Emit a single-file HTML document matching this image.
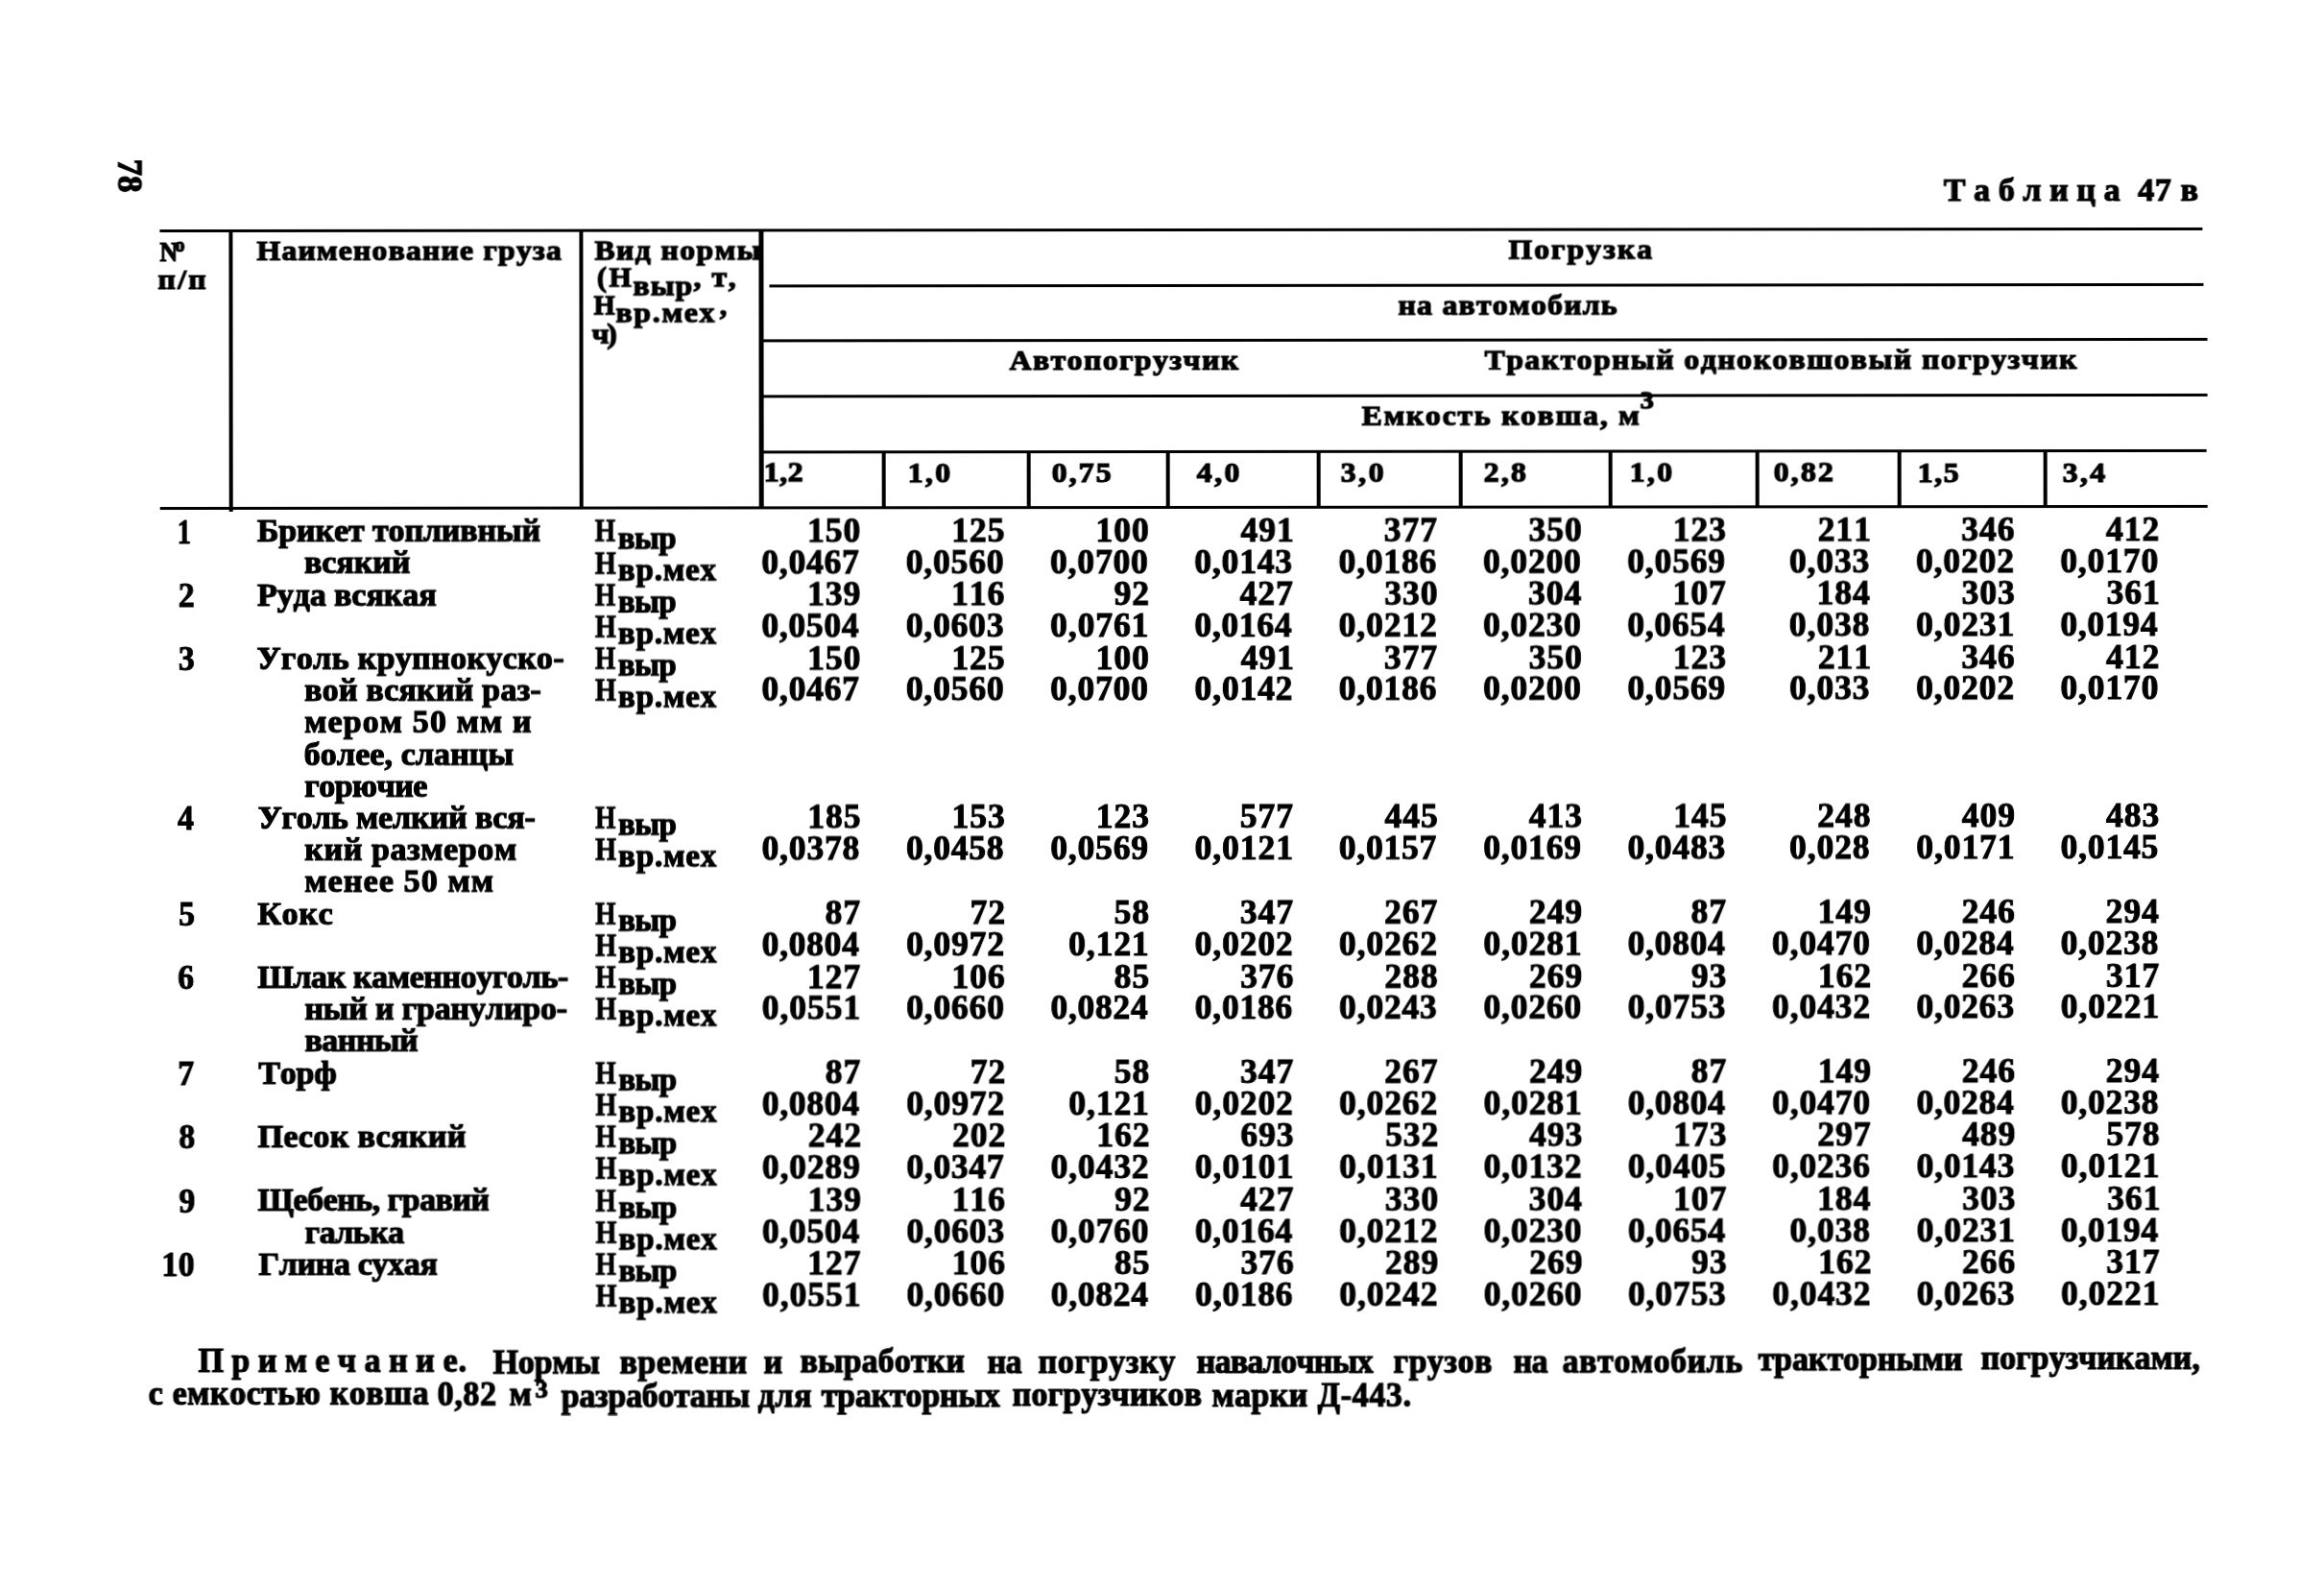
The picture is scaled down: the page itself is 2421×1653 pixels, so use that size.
<!DOCTYPE html>
<html lang="ru"><head><meta charset="utf-8"><title>Таблица 47в</title>
<style>
html,body{margin:0;padding:0;background:#fff;overflow:hidden;}
#clip{position:absolute;left:0;top:0;width:2421px;height:1653px;overflow:hidden;background:#fff;}
body{width:2421px;height:1653px;position:relative;overflow:hidden;font-family:"Liberation Serif",serif;font-weight:bold;color:#000;font-kerning:none;font-variant-ligatures:none;}
.t{position:absolute;white-space:nowrap;display:block;transform-origin:0 50%;-webkit-text-stroke:1.2px #000;}
.l{position:absolute;background:#000;}
#pg{position:absolute;left:0;top:0;width:2421px;height:1653px;transform:rotate(-0.057deg);transform-origin:1210px 826px;will-change:transform;}
</style></head>
<body>
<div id="clip">
<div id="pg">
<div class="l" style="left:166.5px;top:237.7px;width:2128.5px;height:3.4px"></div>
<div class="l" style="left:802.0px;top:295.6px;width:1494.0px;height:3.4px"></div>
<div class="l" style="left:792.0px;top:353.0px;width:1508.0px;height:3.4px"></div>
<div class="l" style="left:792.0px;top:410.7px;width:1508.0px;height:3.4px"></div>
<div class="l" style="left:792.0px;top:468.9px;width:1507.0px;height:3.4px"></div>
<div class="l" style="left:166.5px;top:526.5px;width:2133.5px;height:3.6px"></div>
<div class="l" style="left:238.6px;top:238.0px;width:4.4px;height:294.0px"></div>
<div class="l" style="left:603.6px;top:239.0px;width:4.9px;height:290.0px"></div>
<div class="l" style="left:791.2px;top:239.0px;width:4.8px;height:290.0px"></div>
<div class="l" style="left:918.7px;top:469.0px;width:4.0px;height:60.0px"></div>
<div class="l" style="left:1069.7px;top:469.0px;width:4.0px;height:60.0px"></div>
<div class="l" style="left:1215.3px;top:469.0px;width:4.0px;height:60.0px"></div>
<div class="l" style="left:1371.9px;top:469.0px;width:4.0px;height:60.0px"></div>
<div class="l" style="left:1519.6px;top:469.0px;width:4.0px;height:60.0px"></div>
<div class="l" style="left:1675.9px;top:469.0px;width:4.0px;height:60.0px"></div>
<div class="l" style="left:1828.8px;top:469.0px;width:4.0px;height:60.0px"></div>
<div class="l" style="left:1977.3px;top:469.0px;width:4.0px;height:60.0px"></div>
<div class="l" style="left:2129.0px;top:469.0px;width:4.0px;height:60.0px"></div>
<span class="t" style="left:135.2px;top:182.0px;font-size:35px;line-height:35px;transform:translate(-50%,-50%) rotate(90deg);transform-origin:50% 50%;">78</span>
<span class="t" style="left:2025.48px;top:182.00px;font-size:34px;line-height:34px;letter-spacing:8.652px;">Таблица</span>
<span class="t" style="left:2227.65px;top:182.00px;font-size:34px;line-height:34px;letter-spacing:0.895px;">47</span>
<span class="t" style="left:2272.33px;top:182.00px;font-size:34px;line-height:34px;">в</span>
<span class="t" style="left:166.78px;top:246.00px;font-size:30px;line-height:30px;transform:scaleX(0.8600);">N</span>
<span class="t" style="left:183.00px;top:244.00px;font-size:20px;line-height:20px;">о</span>
<span class="t" style="left:164.52px;top:275.00px;font-size:30px;line-height:30px;letter-spacing:2.182px;transform:scaleX(1.0600);">п/п</span>
<span class="t" style="left:267.84px;top:245.00px;font-size:30px;line-height:30px;letter-spacing:1.105px;transform:scaleX(1.0600);">Наименование груза</span>
<span class="t" style="left:620.06px;top:245.00px;font-size:30px;line-height:30px;letter-spacing:1.301px;transform:scaleX(1.0600);">Вид нормы</span>
<span class="t" style="left:622.41px;top:273.00px;font-size:30px;line-height:30px;letter-spacing:2.500px;">(Н</span>
<span class="t" style="left:659.66px;top:282.00px;font-size:30px;line-height:30px;letter-spacing:1.000px;transform:scaleX(1.0600);">выр</span>
<span class="t" style="left:722.76px;top:273.00px;font-size:30px;line-height:30px;letter-spacing:1.500px;transform:scaleX(1.0600);">, т,</span>
<span class="t" style="left:618.58px;top:302.00px;font-size:30px;line-height:30px;transform:scaleX(0.9500);">Н</span>
<span class="t" style="left:642.34px;top:310.00px;font-size:30px;line-height:30px;letter-spacing:1.600px;transform:scaleX(1.0600);">вр.мех</span>
<span class="t" style="left:750.34px;top:302.00px;font-size:30px;line-height:30px;">,</span>
<span class="t" style="left:617.44px;top:332.00px;font-size:30px;line-height:30px;letter-spacing:-2.012px;transform:scaleX(1.0600);">ч)</span>
<span class="t" style="left:1571.57px;top:245.00px;font-size:30px;line-height:30px;letter-spacing:1.882px;transform:scaleX(1.0600);">Погрузка</span>
<span class="t" style="left:1457.09px;top:303.00px;font-size:30px;line-height:30px;letter-spacing:1.174px;transform:scaleX(1.0600);">на автомобиль</span>
<span class="t" style="left:1051.76px;top:360.00px;font-size:30px;line-height:30px;letter-spacing:1.354px;transform:scaleX(1.0600);">Автопогрузчик</span>
<span class="t" style="left:1546.58px;top:360.00px;font-size:30px;line-height:30px;letter-spacing:1.380px;transform:scaleX(1.0600);">Тракторный одноковшовый погрузчик</span>
<span class="t" style="left:1418.77px;top:418.00px;font-size:30px;line-height:30px;letter-spacing:1.627px;transform:scaleX(1.0600);">Емкость ковша, м</span>
<span class="t" style="left:1709.10px;top:405.00px;font-size:25.5px;line-height:25.5px;transform:scaleX(1.1200);">3</span>
<span class="t" style="left:796.23px;top:477.00px;font-size:29px;line-height:29px;letter-spacing:0.468px;transform:scaleX(1.1000);">1,2</span>
<span class="t" style="left:946.23px;top:478.00px;font-size:29px;line-height:29px;letter-spacing:2.125px;transform:scaleX(1.1000);">1,0</span>
<span class="t" style="left:1095.77px;top:478.00px;font-size:29px;line-height:29px;letter-spacing:1.890px;transform:scaleX(1.1000);">0,75</span>
<span class="t" style="left:1247.15px;top:478.00px;font-size:29px;line-height:29px;letter-spacing:2.207px;transform:scaleX(1.1000);">4,0</span>
<span class="t" style="left:1397.38px;top:478.00px;font-size:29px;line-height:29px;letter-spacing:2.327px;transform:scaleX(1.1000);">3,0</span>
<span class="t" style="left:1546.14px;top:478.00px;font-size:29px;line-height:29px;letter-spacing:2.002px;transform:scaleX(1.1000);">2,8</span>
<span class="t" style="left:1698.43px;top:478.00px;font-size:29px;line-height:29px;letter-spacing:2.079px;transform:scaleX(1.1000);">1,0</span>
<span class="t" style="left:1847.77px;top:478.00px;font-size:29px;line-height:29px;letter-spacing:1.952px;transform:scaleX(1.1000);">0,82</span>
<span class="t" style="left:1998.43px;top:479.00px;font-size:29px;line-height:29px;letter-spacing:1.376px;transform:scaleX(1.1000);">1,5</span>
<span class="t" style="left:2149.08px;top:479.00px;font-size:29px;line-height:29px;letter-spacing:2.044px;transform:scaleX(1.1000);">3,4</span>
<span class="t" style="left:185.47px;top:536.00px;font-size:35.5px;line-height:35.5px;letter-spacing:0.500px;transform:scaleX(0.8000);-webkit-text-stroke-width:1px;">1</span>
<span class="t" style="left:185.91px;top:602.00px;font-size:35.5px;line-height:35.5px;letter-spacing:0.500px;transform:scaleX(0.9500);-webkit-text-stroke-width:1px;">2</span>
<span class="t" style="left:185.62px;top:668.00px;font-size:35.5px;line-height:35.5px;letter-spacing:0.500px;transform:scaleX(0.9500);-webkit-text-stroke-width:1px;">3</span>
<span class="t" style="left:185.09px;top:834.00px;font-size:35.5px;line-height:35.5px;letter-spacing:0.500px;transform:scaleX(0.9500);-webkit-text-stroke-width:1px;">4</span>
<span class="t" style="left:185.70px;top:934.00px;font-size:35.5px;line-height:35.5px;letter-spacing:0.500px;transform:scaleX(0.9500);-webkit-text-stroke-width:1px;">5</span>
<span class="t" style="left:185.45px;top:1000.00px;font-size:35.5px;line-height:35.5px;letter-spacing:0.500px;transform:scaleX(0.9500);-webkit-text-stroke-width:1px;">6</span>
<span class="t" style="left:185.29px;top:1100.00px;font-size:35.5px;line-height:35.5px;letter-spacing:0.500px;transform:scaleX(0.9500);-webkit-text-stroke-width:1px;">7</span>
<span class="t" style="left:185.58px;top:1166.00px;font-size:35.5px;line-height:35.5px;letter-spacing:0.500px;transform:scaleX(0.9500);-webkit-text-stroke-width:1px;">8</span>
<span class="t" style="left:185.68px;top:1233.00px;font-size:35.5px;line-height:35.5px;letter-spacing:0.500px;transform:scaleX(0.9500);-webkit-text-stroke-width:1px;">9</span>
<span class="t" style="left:168.41px;top:1299.00px;font-size:35.5px;line-height:35.5px;letter-spacing:0.500px;transform:scaleX(0.9500);-webkit-text-stroke-width:1px;">10</span>
<span class="t" style="left:268.22px;top:535.00px;font-size:34px;line-height:34px;letter-spacing:-0.122px;">Брикет топливный</span>
<span class="t" style="left:317.22px;top:568.00px;font-size:34px;line-height:34px;letter-spacing:-0.028px;">всякий</span>
<span class="t" style="left:268.22px;top:602.00px;font-size:34px;line-height:34px;letter-spacing:-0.072px;">Руда всякая</span>
<span class="t" style="left:267.84px;top:668.00px;font-size:34px;line-height:34px;letter-spacing:0.335px;">Уголь крупнокуско-</span>
<span class="t" style="left:317.22px;top:701.00px;font-size:34px;line-height:34px;letter-spacing:0.226px;">вой всякий раз-</span>
<span class="t" style="left:317.20px;top:734.00px;font-size:34px;line-height:34px;letter-spacing:1.131px;">мером 50 мм и</span>
<span class="t" style="left:316.77px;top:768.00px;font-size:34px;line-height:34px;letter-spacing:0.098px;">более, сланцы</span>
<span class="t" style="left:317.20px;top:801.00px;font-size:34px;line-height:34px;letter-spacing:-0.500px;">горючие</span>
<span class="t" style="left:268.64px;top:834.00px;font-size:34px;line-height:34px;letter-spacing:-0.088px;">Уголь мелкий вся-</span>
<span class="t" style="left:317.37px;top:867.00px;font-size:34px;line-height:34px;letter-spacing:0.594px;">кий размером</span>
<span class="t" style="left:317.20px;top:900.00px;font-size:34px;line-height:34px;letter-spacing:1.142px;">менее 50 мм</span>
<span class="t" style="left:268.22px;top:934.00px;font-size:34px;line-height:34px;letter-spacing:0.700px;">Кокс</span>
<span class="t" style="left:268.22px;top:1000.00px;font-size:34px;line-height:34px;letter-spacing:-0.383px;">Шлак каменноуголь-</span>
<span class="t" style="left:317.20px;top:1033.00px;font-size:34px;line-height:34px;letter-spacing:-0.167px;">ный и гранулиро-</span>
<span class="t" style="left:317.22px;top:1066.00px;font-size:34px;line-height:34px;letter-spacing:-0.500px;">ванный</span>
<span class="t" style="left:269.07px;top:1100.00px;font-size:34px;line-height:34px;letter-spacing:-0.200px;">Торф</span>
<span class="t" style="left:268.14px;top:1166.00px;font-size:34px;line-height:34px;letter-spacing:0.421px;">Песок всякий</span>
<span class="t" style="left:268.22px;top:1232.00px;font-size:34px;line-height:34px;letter-spacing:-0.500px;">Щебень, гравий</span>
<span class="t" style="left:317.20px;top:1266.00px;font-size:34px;line-height:34px;letter-spacing:-0.500px;">галька</span>
<span class="t" style="left:268.99px;top:1299.00px;font-size:34px;line-height:34px;letter-spacing:-0.356px;">Глина сухая</span>
<span class="t" style="left:841.20px;top:535.00px;font-size:35.5px;line-height:35.5px;letter-spacing:1.000px;-webkit-text-stroke-width:1px;">150</span>
<span class="t" style="left:991.48px;top:535.00px;font-size:35.5px;line-height:35.5px;letter-spacing:1.000px;-webkit-text-stroke-width:1px;">125</span>
<span class="t" style="left:1141.86px;top:535.00px;font-size:35.5px;line-height:35.5px;letter-spacing:1.000px;-webkit-text-stroke-width:1px;">100</span>
<span class="t" style="left:1292.68px;top:535.00px;font-size:35.5px;line-height:35.5px;letter-spacing:1.000px;-webkit-text-stroke-width:1px;">491</span>
<span class="t" style="left:1442.04px;top:535.00px;font-size:35.5px;line-height:35.5px;letter-spacing:1.000px;-webkit-text-stroke-width:1px;">377</span>
<span class="t" style="left:1592.85px;top:535.00px;font-size:35.5px;line-height:35.5px;letter-spacing:1.000px;-webkit-text-stroke-width:1px;">350</span>
<span class="t" style="left:1743.04px;top:535.00px;font-size:35.5px;line-height:35.5px;letter-spacing:1.000px;-webkit-text-stroke-width:1px;">123</span>
<span class="t" style="left:1894.00px;top:535.00px;font-size:35.5px;line-height:35.5px;letter-spacing:1.000px;-webkit-text-stroke-width:1px;">211</span>
<span class="t" style="left:2043.53px;top:535.00px;font-size:35.5px;line-height:35.5px;letter-spacing:1.000px;-webkit-text-stroke-width:1px;">346</span>
<span class="t" style="left:2194.35px;top:535.00px;font-size:35.5px;line-height:35.5px;letter-spacing:1.000px;-webkit-text-stroke-width:1px;">412</span>
<span class="t" style="left:793.55px;top:568.00px;font-size:35.5px;line-height:35.5px;letter-spacing:0.759px;-webkit-text-stroke-width:1px;">0,0467</span>
<span class="t" style="left:943.88px;top:568.00px;font-size:35.5px;line-height:35.5px;letter-spacing:0.856px;-webkit-text-stroke-width:1px;">0,0560</span>
<span class="t" style="left:1094.21px;top:568.00px;font-size:35.5px;line-height:35.5px;letter-spacing:0.856px;-webkit-text-stroke-width:1px;">0,0700</span>
<span class="t" style="left:1244.54px;top:568.00px;font-size:35.5px;line-height:35.5px;letter-spacing:0.828px;-webkit-text-stroke-width:1px;">0,0143</span>
<span class="t" style="left:1394.87px;top:568.00px;font-size:35.5px;line-height:35.5px;letter-spacing:0.793px;-webkit-text-stroke-width:1px;">0,0186</span>
<span class="t" style="left:1545.20px;top:568.00px;font-size:35.5px;line-height:35.5px;letter-spacing:0.856px;-webkit-text-stroke-width:1px;">0,0200</span>
<span class="t" style="left:1695.53px;top:568.00px;font-size:35.5px;line-height:35.5px;letter-spacing:0.842px;-webkit-text-stroke-width:1px;">0,0569</span>
<span class="t" style="left:1864.15px;top:568.00px;font-size:35.5px;line-height:35.5px;letter-spacing:0.900px;-webkit-text-stroke-width:1px;">0,033</span>
<span class="t" style="left:1996.19px;top:568.00px;font-size:35.5px;line-height:35.5px;letter-spacing:0.890px;-webkit-text-stroke-width:1px;">0,0202</span>
<span class="t" style="left:2146.52px;top:568.00px;font-size:35.5px;line-height:35.5px;letter-spacing:0.856px;-webkit-text-stroke-width:1px;">0,0170</span>
<span class="t" style="left:841.13px;top:601.00px;font-size:35.5px;line-height:35.5px;letter-spacing:1.000px;-webkit-text-stroke-width:1px;">139</span>
<span class="t" style="left:991.22px;top:601.00px;font-size:35.5px;line-height:35.5px;letter-spacing:1.000px;-webkit-text-stroke-width:1px;">116</span>
<span class="t" style="left:1160.79px;top:601.00px;font-size:35.5px;line-height:35.5px;letter-spacing:1.000px;-webkit-text-stroke-width:1px;">92</span>
<span class="t" style="left:1291.71px;top:601.00px;font-size:35.5px;line-height:35.5px;letter-spacing:1.000px;-webkit-text-stroke-width:1px;">427</span>
<span class="t" style="left:1442.52px;top:601.00px;font-size:35.5px;line-height:35.5px;letter-spacing:1.000px;-webkit-text-stroke-width:1px;">330</span>
<span class="t" style="left:1592.16px;top:601.00px;font-size:35.5px;line-height:35.5px;letter-spacing:1.000px;-webkit-text-stroke-width:1px;">304</span>
<span class="t" style="left:1742.70px;top:601.00px;font-size:35.5px;line-height:35.5px;letter-spacing:1.000px;-webkit-text-stroke-width:1px;">107</span>
<span class="t" style="left:1892.82px;top:601.00px;font-size:35.5px;line-height:35.5px;letter-spacing:1.000px;-webkit-text-stroke-width:1px;">184</span>
<span class="t" style="left:2043.70px;top:601.00px;font-size:35.5px;line-height:35.5px;letter-spacing:1.000px;-webkit-text-stroke-width:1px;">303</span>
<span class="t" style="left:2194.66px;top:601.00px;font-size:35.5px;line-height:35.5px;letter-spacing:1.000px;-webkit-text-stroke-width:1px;">361</span>
<span class="t" style="left:793.55px;top:634.00px;font-size:35.5px;line-height:35.5px;letter-spacing:0.717px;-webkit-text-stroke-width:1px;">0,0504</span>
<span class="t" style="left:943.88px;top:634.00px;font-size:35.5px;line-height:35.5px;letter-spacing:0.828px;-webkit-text-stroke-width:1px;">0,0603</span>
<span class="t" style="left:1094.21px;top:634.00px;font-size:35.5px;line-height:35.5px;letter-spacing:0.953px;-webkit-text-stroke-width:1px;">0,0761</span>
<span class="t" style="left:1244.54px;top:634.00px;font-size:35.5px;line-height:35.5px;letter-spacing:0.717px;-webkit-text-stroke-width:1px;">0,0164</span>
<span class="t" style="left:1394.87px;top:634.00px;font-size:35.5px;line-height:35.5px;letter-spacing:0.890px;-webkit-text-stroke-width:1px;">0,0212</span>
<span class="t" style="left:1545.20px;top:634.00px;font-size:35.5px;line-height:35.5px;letter-spacing:0.856px;-webkit-text-stroke-width:1px;">0,0230</span>
<span class="t" style="left:1695.53px;top:634.00px;font-size:35.5px;line-height:35.5px;letter-spacing:0.717px;-webkit-text-stroke-width:1px;">0,0654</span>
<span class="t" style="left:1864.11px;top:634.00px;font-size:35.5px;line-height:35.5px;letter-spacing:0.900px;-webkit-text-stroke-width:1px;">0,038</span>
<span class="t" style="left:1996.19px;top:634.00px;font-size:35.5px;line-height:35.5px;letter-spacing:0.953px;-webkit-text-stroke-width:1px;">0,0231</span>
<span class="t" style="left:2146.52px;top:634.00px;font-size:35.5px;line-height:35.5px;letter-spacing:0.717px;-webkit-text-stroke-width:1px;">0,0194</span>
<span class="t" style="left:841.20px;top:668.00px;font-size:35.5px;line-height:35.5px;letter-spacing:1.000px;-webkit-text-stroke-width:1px;">150</span>
<span class="t" style="left:991.48px;top:668.00px;font-size:35.5px;line-height:35.5px;letter-spacing:1.000px;-webkit-text-stroke-width:1px;">125</span>
<span class="t" style="left:1141.86px;top:668.00px;font-size:35.5px;line-height:35.5px;letter-spacing:1.000px;-webkit-text-stroke-width:1px;">100</span>
<span class="t" style="left:1292.68px;top:668.00px;font-size:35.5px;line-height:35.5px;letter-spacing:1.000px;-webkit-text-stroke-width:1px;">491</span>
<span class="t" style="left:1442.04px;top:668.00px;font-size:35.5px;line-height:35.5px;letter-spacing:1.000px;-webkit-text-stroke-width:1px;">377</span>
<span class="t" style="left:1592.85px;top:668.00px;font-size:35.5px;line-height:35.5px;letter-spacing:1.000px;-webkit-text-stroke-width:1px;">350</span>
<span class="t" style="left:1743.04px;top:668.00px;font-size:35.5px;line-height:35.5px;letter-spacing:1.000px;-webkit-text-stroke-width:1px;">123</span>
<span class="t" style="left:1894.00px;top:668.00px;font-size:35.5px;line-height:35.5px;letter-spacing:1.000px;-webkit-text-stroke-width:1px;">211</span>
<span class="t" style="left:2043.53px;top:668.00px;font-size:35.5px;line-height:35.5px;letter-spacing:1.000px;-webkit-text-stroke-width:1px;">346</span>
<span class="t" style="left:2194.35px;top:668.00px;font-size:35.5px;line-height:35.5px;letter-spacing:1.000px;-webkit-text-stroke-width:1px;">412</span>
<span class="t" style="left:793.55px;top:700.00px;font-size:35.5px;line-height:35.5px;letter-spacing:0.759px;-webkit-text-stroke-width:1px;">0,0467</span>
<span class="t" style="left:943.88px;top:700.00px;font-size:35.5px;line-height:35.5px;letter-spacing:0.856px;-webkit-text-stroke-width:1px;">0,0560</span>
<span class="t" style="left:1094.21px;top:700.00px;font-size:35.5px;line-height:35.5px;letter-spacing:0.856px;-webkit-text-stroke-width:1px;">0,0700</span>
<span class="t" style="left:1244.54px;top:700.00px;font-size:35.5px;line-height:35.5px;letter-spacing:0.890px;-webkit-text-stroke-width:1px;">0,0142</span>
<span class="t" style="left:1394.87px;top:700.00px;font-size:35.5px;line-height:35.5px;letter-spacing:0.793px;-webkit-text-stroke-width:1px;">0,0186</span>
<span class="t" style="left:1545.20px;top:700.00px;font-size:35.5px;line-height:35.5px;letter-spacing:0.856px;-webkit-text-stroke-width:1px;">0,0200</span>
<span class="t" style="left:1695.53px;top:700.00px;font-size:35.5px;line-height:35.5px;letter-spacing:0.842px;-webkit-text-stroke-width:1px;">0,0569</span>
<span class="t" style="left:1864.15px;top:700.00px;font-size:35.5px;line-height:35.5px;letter-spacing:0.900px;-webkit-text-stroke-width:1px;">0,033</span>
<span class="t" style="left:1996.19px;top:700.00px;font-size:35.5px;line-height:35.5px;letter-spacing:0.890px;-webkit-text-stroke-width:1px;">0,0202</span>
<span class="t" style="left:2146.52px;top:700.00px;font-size:35.5px;line-height:35.5px;letter-spacing:0.856px;-webkit-text-stroke-width:1px;">0,0170</span>
<span class="t" style="left:841.15px;top:833.00px;font-size:35.5px;line-height:35.5px;letter-spacing:1.000px;-webkit-text-stroke-width:1px;">185</span>
<span class="t" style="left:991.39px;top:833.00px;font-size:35.5px;line-height:35.5px;letter-spacing:1.000px;-webkit-text-stroke-width:1px;">153</span>
<span class="t" style="left:1141.72px;top:833.00px;font-size:35.5px;line-height:35.5px;letter-spacing:1.000px;-webkit-text-stroke-width:1px;">123</span>
<span class="t" style="left:1291.71px;top:833.00px;font-size:35.5px;line-height:35.5px;letter-spacing:1.000px;-webkit-text-stroke-width:1px;">577</span>
<span class="t" style="left:1442.47px;top:833.00px;font-size:35.5px;line-height:35.5px;letter-spacing:1.000px;-webkit-text-stroke-width:1px;">445</span>
<span class="t" style="left:1592.71px;top:833.00px;font-size:35.5px;line-height:35.5px;letter-spacing:1.000px;-webkit-text-stroke-width:1px;">413</span>
<span class="t" style="left:1743.13px;top:833.00px;font-size:35.5px;line-height:35.5px;letter-spacing:1.000px;-webkit-text-stroke-width:1px;">145</span>
<span class="t" style="left:1893.34px;top:833.00px;font-size:35.5px;line-height:35.5px;letter-spacing:1.000px;-webkit-text-stroke-width:1px;">248</span>
<span class="t" style="left:2043.77px;top:833.00px;font-size:35.5px;line-height:35.5px;letter-spacing:1.000px;-webkit-text-stroke-width:1px;">409</span>
<span class="t" style="left:2194.03px;top:833.00px;font-size:35.5px;line-height:35.5px;letter-spacing:1.000px;-webkit-text-stroke-width:1px;">483</span>
<span class="t" style="left:793.55px;top:866.00px;font-size:35.5px;line-height:35.5px;letter-spacing:0.821px;-webkit-text-stroke-width:1px;">0,0378</span>
<span class="t" style="left:943.88px;top:866.00px;font-size:35.5px;line-height:35.5px;letter-spacing:0.821px;-webkit-text-stroke-width:1px;">0,0458</span>
<span class="t" style="left:1094.21px;top:866.00px;font-size:35.5px;line-height:35.5px;letter-spacing:0.842px;-webkit-text-stroke-width:1px;">0,0569</span>
<span class="t" style="left:1244.54px;top:866.00px;font-size:35.5px;line-height:35.5px;letter-spacing:0.953px;-webkit-text-stroke-width:1px;">0,0121</span>
<span class="t" style="left:1394.87px;top:866.00px;font-size:35.5px;line-height:35.5px;letter-spacing:0.759px;-webkit-text-stroke-width:1px;">0,0157</span>
<span class="t" style="left:1545.20px;top:866.00px;font-size:35.5px;line-height:35.5px;letter-spacing:0.842px;-webkit-text-stroke-width:1px;">0,0169</span>
<span class="t" style="left:1695.53px;top:866.00px;font-size:35.5px;line-height:35.5px;letter-spacing:0.828px;-webkit-text-stroke-width:1px;">0,0483</span>
<span class="t" style="left:1864.11px;top:866.00px;font-size:35.5px;line-height:35.5px;letter-spacing:0.900px;-webkit-text-stroke-width:1px;">0,028</span>
<span class="t" style="left:1996.19px;top:866.00px;font-size:35.5px;line-height:35.5px;letter-spacing:0.953px;-webkit-text-stroke-width:1px;">0,0171</span>
<span class="t" style="left:2146.52px;top:866.00px;font-size:35.5px;line-height:35.5px;letter-spacing:0.845px;-webkit-text-stroke-width:1px;">0,0145</span>
<span class="t" style="left:859.47px;top:933.00px;font-size:35.5px;line-height:35.5px;letter-spacing:1.000px;-webkit-text-stroke-width:1px;">87</span>
<span class="t" style="left:1010.46px;top:933.00px;font-size:35.5px;line-height:35.5px;letter-spacing:1.000px;-webkit-text-stroke-width:1px;">72</span>
<span class="t" style="left:1160.44px;top:933.00px;font-size:35.5px;line-height:35.5px;letter-spacing:1.000px;-webkit-text-stroke-width:1px;">58</span>
<span class="t" style="left:1291.71px;top:933.00px;font-size:35.5px;line-height:35.5px;letter-spacing:1.000px;-webkit-text-stroke-width:1px;">347</span>
<span class="t" style="left:1442.04px;top:933.00px;font-size:35.5px;line-height:35.5px;letter-spacing:1.000px;-webkit-text-stroke-width:1px;">267</span>
<span class="t" style="left:1592.78px;top:933.00px;font-size:35.5px;line-height:35.5px;letter-spacing:1.000px;-webkit-text-stroke-width:1px;">249</span>
<span class="t" style="left:1761.45px;top:933.00px;font-size:35.5px;line-height:35.5px;letter-spacing:1.000px;-webkit-text-stroke-width:1px;">87</span>
<span class="t" style="left:1893.44px;top:933.00px;font-size:35.5px;line-height:35.5px;letter-spacing:1.000px;-webkit-text-stroke-width:1px;">149</span>
<span class="t" style="left:2043.53px;top:933.00px;font-size:35.5px;line-height:35.5px;letter-spacing:1.000px;-webkit-text-stroke-width:1px;">246</span>
<span class="t" style="left:2193.48px;top:933.00px;font-size:35.5px;line-height:35.5px;letter-spacing:1.000px;-webkit-text-stroke-width:1px;">294</span>
<span class="t" style="left:793.55px;top:966.00px;font-size:35.5px;line-height:35.5px;letter-spacing:0.717px;-webkit-text-stroke-width:1px;">0,0804</span>
<span class="t" style="left:943.88px;top:966.00px;font-size:35.5px;line-height:35.5px;letter-spacing:0.890px;-webkit-text-stroke-width:1px;">0,0972</span>
<span class="t" style="left:1113.12px;top:966.00px;font-size:35.5px;line-height:35.5px;letter-spacing:0.900px;-webkit-text-stroke-width:1px;">0,121</span>
<span class="t" style="left:1244.54px;top:966.00px;font-size:35.5px;line-height:35.5px;letter-spacing:0.890px;-webkit-text-stroke-width:1px;">0,0202</span>
<span class="t" style="left:1394.87px;top:966.00px;font-size:35.5px;line-height:35.5px;letter-spacing:0.890px;-webkit-text-stroke-width:1px;">0,0262</span>
<span class="t" style="left:1545.20px;top:966.00px;font-size:35.5px;line-height:35.5px;letter-spacing:0.953px;-webkit-text-stroke-width:1px;">0,0281</span>
<span class="t" style="left:1695.53px;top:966.00px;font-size:35.5px;line-height:35.5px;letter-spacing:0.717px;-webkit-text-stroke-width:1px;">0,0804</span>
<span class="t" style="left:1845.86px;top:966.00px;font-size:35.5px;line-height:35.5px;letter-spacing:0.856px;-webkit-text-stroke-width:1px;">0,0470</span>
<span class="t" style="left:1996.19px;top:966.00px;font-size:35.5px;line-height:35.5px;letter-spacing:0.717px;-webkit-text-stroke-width:1px;">0,0284</span>
<span class="t" style="left:2146.52px;top:966.00px;font-size:35.5px;line-height:35.5px;letter-spacing:0.821px;-webkit-text-stroke-width:1px;">0,0238</span>
<span class="t" style="left:840.72px;top:1000.00px;font-size:35.5px;line-height:35.5px;letter-spacing:1.000px;-webkit-text-stroke-width:1px;">127</span>
<span class="t" style="left:991.22px;top:1000.00px;font-size:35.5px;line-height:35.5px;letter-spacing:1.000px;-webkit-text-stroke-width:1px;">106</span>
<span class="t" style="left:1160.56px;top:1000.00px;font-size:35.5px;line-height:35.5px;letter-spacing:1.000px;-webkit-text-stroke-width:1px;">85</span>
<span class="t" style="left:1291.88px;top:1000.00px;font-size:35.5px;line-height:35.5px;letter-spacing:1.000px;-webkit-text-stroke-width:1px;">376</span>
<span class="t" style="left:1442.35px;top:1000.00px;font-size:35.5px;line-height:35.5px;letter-spacing:1.000px;-webkit-text-stroke-width:1px;">288</span>
<span class="t" style="left:1592.78px;top:1000.00px;font-size:35.5px;line-height:35.5px;letter-spacing:1.000px;-webkit-text-stroke-width:1px;">269</span>
<span class="t" style="left:1761.79px;top:1000.00px;font-size:35.5px;line-height:35.5px;letter-spacing:1.000px;-webkit-text-stroke-width:1px;">93</span>
<span class="t" style="left:1893.69px;top:1000.00px;font-size:35.5px;line-height:35.5px;letter-spacing:1.000px;-webkit-text-stroke-width:1px;">162</span>
<span class="t" style="left:2043.53px;top:1000.00px;font-size:35.5px;line-height:35.5px;letter-spacing:1.000px;-webkit-text-stroke-width:1px;">266</span>
<span class="t" style="left:2193.69px;top:1000.00px;font-size:35.5px;line-height:35.5px;letter-spacing:1.000px;-webkit-text-stroke-width:1px;">317</span>
<span class="t" style="left:793.55px;top:1032.00px;font-size:35.5px;line-height:35.5px;letter-spacing:0.953px;-webkit-text-stroke-width:1px;">0,0551</span>
<span class="t" style="left:943.88px;top:1032.00px;font-size:35.5px;line-height:35.5px;letter-spacing:0.856px;-webkit-text-stroke-width:1px;">0,0660</span>
<span class="t" style="left:1094.21px;top:1032.00px;font-size:35.5px;line-height:35.5px;letter-spacing:0.717px;-webkit-text-stroke-width:1px;">0,0824</span>
<span class="t" style="left:1244.54px;top:1032.00px;font-size:35.5px;line-height:35.5px;letter-spacing:0.793px;-webkit-text-stroke-width:1px;">0,0186</span>
<span class="t" style="left:1394.87px;top:1032.00px;font-size:35.5px;line-height:35.5px;letter-spacing:0.828px;-webkit-text-stroke-width:1px;">0,0243</span>
<span class="t" style="left:1545.20px;top:1032.00px;font-size:35.5px;line-height:35.5px;letter-spacing:0.856px;-webkit-text-stroke-width:1px;">0,0260</span>
<span class="t" style="left:1695.53px;top:1032.00px;font-size:35.5px;line-height:35.5px;letter-spacing:0.828px;-webkit-text-stroke-width:1px;">0,0753</span>
<span class="t" style="left:1845.86px;top:1032.00px;font-size:35.5px;line-height:35.5px;letter-spacing:0.890px;-webkit-text-stroke-width:1px;">0,0432</span>
<span class="t" style="left:1996.19px;top:1032.00px;font-size:35.5px;line-height:35.5px;letter-spacing:0.828px;-webkit-text-stroke-width:1px;">0,0263</span>
<span class="t" style="left:2146.52px;top:1032.00px;font-size:35.5px;line-height:35.5px;letter-spacing:0.953px;-webkit-text-stroke-width:1px;">0,0221</span>
<span class="t" style="left:859.47px;top:1099.00px;font-size:35.5px;line-height:35.5px;letter-spacing:1.000px;-webkit-text-stroke-width:1px;">87</span>
<span class="t" style="left:1010.46px;top:1099.00px;font-size:35.5px;line-height:35.5px;letter-spacing:1.000px;-webkit-text-stroke-width:1px;">72</span>
<span class="t" style="left:1160.44px;top:1099.00px;font-size:35.5px;line-height:35.5px;letter-spacing:1.000px;-webkit-text-stroke-width:1px;">58</span>
<span class="t" style="left:1291.71px;top:1099.00px;font-size:35.5px;line-height:35.5px;letter-spacing:1.000px;-webkit-text-stroke-width:1px;">347</span>
<span class="t" style="left:1442.04px;top:1099.00px;font-size:35.5px;line-height:35.5px;letter-spacing:1.000px;-webkit-text-stroke-width:1px;">267</span>
<span class="t" style="left:1592.78px;top:1099.00px;font-size:35.5px;line-height:35.5px;letter-spacing:1.000px;-webkit-text-stroke-width:1px;">249</span>
<span class="t" style="left:1761.45px;top:1099.00px;font-size:35.5px;line-height:35.5px;letter-spacing:1.000px;-webkit-text-stroke-width:1px;">87</span>
<span class="t" style="left:1893.44px;top:1099.00px;font-size:35.5px;line-height:35.5px;letter-spacing:1.000px;-webkit-text-stroke-width:1px;">149</span>
<span class="t" style="left:2043.53px;top:1099.00px;font-size:35.5px;line-height:35.5px;letter-spacing:1.000px;-webkit-text-stroke-width:1px;">246</span>
<span class="t" style="left:2193.48px;top:1099.00px;font-size:35.5px;line-height:35.5px;letter-spacing:1.000px;-webkit-text-stroke-width:1px;">294</span>
<span class="t" style="left:793.55px;top:1132.00px;font-size:35.5px;line-height:35.5px;letter-spacing:0.717px;-webkit-text-stroke-width:1px;">0,0804</span>
<span class="t" style="left:943.88px;top:1132.00px;font-size:35.5px;line-height:35.5px;letter-spacing:0.890px;-webkit-text-stroke-width:1px;">0,0972</span>
<span class="t" style="left:1113.12px;top:1132.00px;font-size:35.5px;line-height:35.5px;letter-spacing:0.900px;-webkit-text-stroke-width:1px;">0,121</span>
<span class="t" style="left:1244.54px;top:1132.00px;font-size:35.5px;line-height:35.5px;letter-spacing:0.890px;-webkit-text-stroke-width:1px;">0,0202</span>
<span class="t" style="left:1394.87px;top:1132.00px;font-size:35.5px;line-height:35.5px;letter-spacing:0.890px;-webkit-text-stroke-width:1px;">0,0262</span>
<span class="t" style="left:1545.20px;top:1132.00px;font-size:35.5px;line-height:35.5px;letter-spacing:0.953px;-webkit-text-stroke-width:1px;">0,0281</span>
<span class="t" style="left:1695.53px;top:1132.00px;font-size:35.5px;line-height:35.5px;letter-spacing:0.717px;-webkit-text-stroke-width:1px;">0,0804</span>
<span class="t" style="left:1845.86px;top:1132.00px;font-size:35.5px;line-height:35.5px;letter-spacing:0.856px;-webkit-text-stroke-width:1px;">0,0470</span>
<span class="t" style="left:1996.19px;top:1132.00px;font-size:35.5px;line-height:35.5px;letter-spacing:0.717px;-webkit-text-stroke-width:1px;">0,0284</span>
<span class="t" style="left:2146.52px;top:1132.00px;font-size:35.5px;line-height:35.5px;letter-spacing:0.821px;-webkit-text-stroke-width:1px;">0,0238</span>
<span class="t" style="left:841.38px;top:1165.00px;font-size:35.5px;line-height:35.5px;letter-spacing:1.000px;-webkit-text-stroke-width:1px;">242</span>
<span class="t" style="left:991.71px;top:1165.00px;font-size:35.5px;line-height:35.5px;letter-spacing:1.000px;-webkit-text-stroke-width:1px;">202</span>
<span class="t" style="left:1142.04px;top:1165.00px;font-size:35.5px;line-height:35.5px;letter-spacing:1.000px;-webkit-text-stroke-width:1px;">162</span>
<span class="t" style="left:1292.05px;top:1165.00px;font-size:35.5px;line-height:35.5px;letter-spacing:1.000px;-webkit-text-stroke-width:1px;">693</span>
<span class="t" style="left:1442.70px;top:1165.00px;font-size:35.5px;line-height:35.5px;letter-spacing:1.000px;-webkit-text-stroke-width:1px;">532</span>
<span class="t" style="left:1592.71px;top:1165.00px;font-size:35.5px;line-height:35.5px;letter-spacing:1.000px;-webkit-text-stroke-width:1px;">493</span>
<span class="t" style="left:1743.04px;top:1165.00px;font-size:35.5px;line-height:35.5px;letter-spacing:1.000px;-webkit-text-stroke-width:1px;">173</span>
<span class="t" style="left:1893.03px;top:1165.00px;font-size:35.5px;line-height:35.5px;letter-spacing:1.000px;-webkit-text-stroke-width:1px;">297</span>
<span class="t" style="left:2043.77px;top:1165.00px;font-size:35.5px;line-height:35.5px;letter-spacing:1.000px;-webkit-text-stroke-width:1px;">489</span>
<span class="t" style="left:2194.00px;top:1165.00px;font-size:35.5px;line-height:35.5px;letter-spacing:1.000px;-webkit-text-stroke-width:1px;">578</span>
<span class="t" style="left:793.55px;top:1198.00px;font-size:35.5px;line-height:35.5px;letter-spacing:0.842px;-webkit-text-stroke-width:1px;">0,0289</span>
<span class="t" style="left:943.88px;top:1198.00px;font-size:35.5px;line-height:35.5px;letter-spacing:0.759px;-webkit-text-stroke-width:1px;">0,0347</span>
<span class="t" style="left:1094.21px;top:1198.00px;font-size:35.5px;line-height:35.5px;letter-spacing:0.890px;-webkit-text-stroke-width:1px;">0,0432</span>
<span class="t" style="left:1244.54px;top:1198.00px;font-size:35.5px;line-height:35.5px;letter-spacing:0.953px;-webkit-text-stroke-width:1px;">0,0101</span>
<span class="t" style="left:1394.87px;top:1198.00px;font-size:35.5px;line-height:35.5px;letter-spacing:0.953px;-webkit-text-stroke-width:1px;">0,0131</span>
<span class="t" style="left:1545.20px;top:1198.00px;font-size:35.5px;line-height:35.5px;letter-spacing:0.890px;-webkit-text-stroke-width:1px;">0,0132</span>
<span class="t" style="left:1695.53px;top:1198.00px;font-size:35.5px;line-height:35.5px;letter-spacing:0.845px;-webkit-text-stroke-width:1px;">0,0405</span>
<span class="t" style="left:1845.86px;top:1198.00px;font-size:35.5px;line-height:35.5px;letter-spacing:0.793px;-webkit-text-stroke-width:1px;">0,0236</span>
<span class="t" style="left:1996.19px;top:1198.00px;font-size:35.5px;line-height:35.5px;letter-spacing:0.828px;-webkit-text-stroke-width:1px;">0,0143</span>
<span class="t" style="left:2146.52px;top:1198.00px;font-size:35.5px;line-height:35.5px;letter-spacing:0.953px;-webkit-text-stroke-width:1px;">0,0121</span>
<span class="t" style="left:841.13px;top:1232.00px;font-size:35.5px;line-height:35.5px;letter-spacing:1.000px;-webkit-text-stroke-width:1px;">139</span>
<span class="t" style="left:991.22px;top:1232.00px;font-size:35.5px;line-height:35.5px;letter-spacing:1.000px;-webkit-text-stroke-width:1px;">116</span>
<span class="t" style="left:1160.79px;top:1232.00px;font-size:35.5px;line-height:35.5px;letter-spacing:1.000px;-webkit-text-stroke-width:1px;">92</span>
<span class="t" style="left:1291.71px;top:1232.00px;font-size:35.5px;line-height:35.5px;letter-spacing:1.000px;-webkit-text-stroke-width:1px;">427</span>
<span class="t" style="left:1442.52px;top:1232.00px;font-size:35.5px;line-height:35.5px;letter-spacing:1.000px;-webkit-text-stroke-width:1px;">330</span>
<span class="t" style="left:1592.16px;top:1232.00px;font-size:35.5px;line-height:35.5px;letter-spacing:1.000px;-webkit-text-stroke-width:1px;">304</span>
<span class="t" style="left:1742.70px;top:1232.00px;font-size:35.5px;line-height:35.5px;letter-spacing:1.000px;-webkit-text-stroke-width:1px;">107</span>
<span class="t" style="left:1892.82px;top:1232.00px;font-size:35.5px;line-height:35.5px;letter-spacing:1.000px;-webkit-text-stroke-width:1px;">184</span>
<span class="t" style="left:2043.70px;top:1232.00px;font-size:35.5px;line-height:35.5px;letter-spacing:1.000px;-webkit-text-stroke-width:1px;">303</span>
<span class="t" style="left:2194.66px;top:1232.00px;font-size:35.5px;line-height:35.5px;letter-spacing:1.000px;-webkit-text-stroke-width:1px;">361</span>
<span class="t" style="left:793.55px;top:1265.00px;font-size:35.5px;line-height:35.5px;letter-spacing:0.717px;-webkit-text-stroke-width:1px;">0,0504</span>
<span class="t" style="left:943.88px;top:1265.00px;font-size:35.5px;line-height:35.5px;letter-spacing:0.828px;-webkit-text-stroke-width:1px;">0,0603</span>
<span class="t" style="left:1094.21px;top:1265.00px;font-size:35.5px;line-height:35.5px;letter-spacing:0.856px;-webkit-text-stroke-width:1px;">0,0760</span>
<span class="t" style="left:1244.54px;top:1265.00px;font-size:35.5px;line-height:35.5px;letter-spacing:0.717px;-webkit-text-stroke-width:1px;">0,0164</span>
<span class="t" style="left:1394.87px;top:1265.00px;font-size:35.5px;line-height:35.5px;letter-spacing:0.890px;-webkit-text-stroke-width:1px;">0,0212</span>
<span class="t" style="left:1545.20px;top:1265.00px;font-size:35.5px;line-height:35.5px;letter-spacing:0.856px;-webkit-text-stroke-width:1px;">0,0230</span>
<span class="t" style="left:1695.53px;top:1265.00px;font-size:35.5px;line-height:35.5px;letter-spacing:0.717px;-webkit-text-stroke-width:1px;">0,0654</span>
<span class="t" style="left:1864.11px;top:1265.00px;font-size:35.5px;line-height:35.5px;letter-spacing:0.900px;-webkit-text-stroke-width:1px;">0,038</span>
<span class="t" style="left:1996.19px;top:1265.00px;font-size:35.5px;line-height:35.5px;letter-spacing:0.953px;-webkit-text-stroke-width:1px;">0,0231</span>
<span class="t" style="left:2146.52px;top:1265.00px;font-size:35.5px;line-height:35.5px;letter-spacing:0.717px;-webkit-text-stroke-width:1px;">0,0194</span>
<span class="t" style="left:840.72px;top:1298.00px;font-size:35.5px;line-height:35.5px;letter-spacing:1.000px;-webkit-text-stroke-width:1px;">127</span>
<span class="t" style="left:991.22px;top:1298.00px;font-size:35.5px;line-height:35.5px;letter-spacing:1.000px;-webkit-text-stroke-width:1px;">106</span>
<span class="t" style="left:1160.56px;top:1298.00px;font-size:35.5px;line-height:35.5px;letter-spacing:1.000px;-webkit-text-stroke-width:1px;">85</span>
<span class="t" style="left:1291.88px;top:1298.00px;font-size:35.5px;line-height:35.5px;letter-spacing:1.000px;-webkit-text-stroke-width:1px;">376</span>
<span class="t" style="left:1442.45px;top:1298.00px;font-size:35.5px;line-height:35.5px;letter-spacing:1.000px;-webkit-text-stroke-width:1px;">289</span>
<span class="t" style="left:1592.78px;top:1298.00px;font-size:35.5px;line-height:35.5px;letter-spacing:1.000px;-webkit-text-stroke-width:1px;">269</span>
<span class="t" style="left:1761.79px;top:1298.00px;font-size:35.5px;line-height:35.5px;letter-spacing:1.000px;-webkit-text-stroke-width:1px;">93</span>
<span class="t" style="left:1893.69px;top:1298.00px;font-size:35.5px;line-height:35.5px;letter-spacing:1.000px;-webkit-text-stroke-width:1px;">162</span>
<span class="t" style="left:2043.53px;top:1298.00px;font-size:35.5px;line-height:35.5px;letter-spacing:1.000px;-webkit-text-stroke-width:1px;">266</span>
<span class="t" style="left:2193.69px;top:1298.00px;font-size:35.5px;line-height:35.5px;letter-spacing:1.000px;-webkit-text-stroke-width:1px;">317</span>
<span class="t" style="left:793.55px;top:1331.00px;font-size:35.5px;line-height:35.5px;letter-spacing:0.953px;-webkit-text-stroke-width:1px;">0,0551</span>
<span class="t" style="left:943.88px;top:1331.00px;font-size:35.5px;line-height:35.5px;letter-spacing:0.856px;-webkit-text-stroke-width:1px;">0,0660</span>
<span class="t" style="left:1094.21px;top:1331.00px;font-size:35.5px;line-height:35.5px;letter-spacing:0.717px;-webkit-text-stroke-width:1px;">0,0824</span>
<span class="t" style="left:1244.54px;top:1331.00px;font-size:35.5px;line-height:35.5px;letter-spacing:0.793px;-webkit-text-stroke-width:1px;">0,0186</span>
<span class="t" style="left:1394.87px;top:1331.00px;font-size:35.5px;line-height:35.5px;letter-spacing:0.890px;-webkit-text-stroke-width:1px;">0,0242</span>
<span class="t" style="left:1545.20px;top:1331.00px;font-size:35.5px;line-height:35.5px;letter-spacing:0.856px;-webkit-text-stroke-width:1px;">0,0260</span>
<span class="t" style="left:1695.53px;top:1331.00px;font-size:35.5px;line-height:35.5px;letter-spacing:0.828px;-webkit-text-stroke-width:1px;">0,0753</span>
<span class="t" style="left:1845.86px;top:1331.00px;font-size:35.5px;line-height:35.5px;letter-spacing:0.890px;-webkit-text-stroke-width:1px;">0,0432</span>
<span class="t" style="left:1996.19px;top:1331.00px;font-size:35.5px;line-height:35.5px;letter-spacing:0.828px;-webkit-text-stroke-width:1px;">0,0263</span>
<span class="t" style="left:2146.52px;top:1331.00px;font-size:35.5px;line-height:35.5px;letter-spacing:0.953px;-webkit-text-stroke-width:1px;">0,0221</span>
<span class="t" style="left:619.95px;top:534.00px;font-size:34.5px;line-height:34.5px;transform:scaleX(0.8000);-webkit-text-stroke-width:0.8px;">Н</span>
<span class="t" style="left:643.93px;top:543.00px;font-size:34px;line-height:34px;letter-spacing:-0.503px;transform:scaleX(0.9700);">выр</span>
<span class="t" style="left:619.64px;top:568.00px;font-size:34.5px;line-height:34.5px;transform:scaleX(0.8200);-webkit-text-stroke-width:0.8px;">Н</span>
<span class="t" style="left:644.43px;top:576.00px;font-size:34px;line-height:34px;letter-spacing:0.902px;transform:scaleX(0.9700);">вр.мех</span>
<span class="t" style="left:619.95px;top:601.00px;font-size:34.5px;line-height:34.5px;transform:scaleX(0.8000);-webkit-text-stroke-width:0.8px;">Н</span>
<span class="t" style="left:643.93px;top:609.00px;font-size:34px;line-height:34px;letter-spacing:-0.503px;transform:scaleX(0.9700);">выр</span>
<span class="t" style="left:619.64px;top:634.00px;font-size:34.5px;line-height:34.5px;transform:scaleX(0.8200);-webkit-text-stroke-width:0.8px;">Н</span>
<span class="t" style="left:644.43px;top:642.00px;font-size:34px;line-height:34px;letter-spacing:0.902px;transform:scaleX(0.9700);">вр.мех</span>
<span class="t" style="left:619.95px;top:667.00px;font-size:34.5px;line-height:34.5px;transform:scaleX(0.8000);-webkit-text-stroke-width:0.8px;">Н</span>
<span class="t" style="left:643.93px;top:675.00px;font-size:34px;line-height:34px;letter-spacing:-0.503px;transform:scaleX(0.9700);">выр</span>
<span class="t" style="left:619.64px;top:700.00px;font-size:34.5px;line-height:34.5px;transform:scaleX(0.8200);-webkit-text-stroke-width:0.8px;">Н</span>
<span class="t" style="left:644.43px;top:708.00px;font-size:34px;line-height:34px;letter-spacing:0.902px;transform:scaleX(0.9700);">вр.мех</span>
<span class="t" style="left:619.95px;top:833.00px;font-size:34.5px;line-height:34.5px;transform:scaleX(0.8000);-webkit-text-stroke-width:0.8px;">Н</span>
<span class="t" style="left:643.93px;top:841.00px;font-size:34px;line-height:34px;letter-spacing:-0.503px;transform:scaleX(0.9700);">выр</span>
<span class="t" style="left:619.64px;top:866.00px;font-size:34.5px;line-height:34.5px;transform:scaleX(0.8200);-webkit-text-stroke-width:0.8px;">Н</span>
<span class="t" style="left:644.43px;top:874.00px;font-size:34px;line-height:34px;letter-spacing:0.902px;transform:scaleX(0.9700);">вр.мех</span>
<span class="t" style="left:619.95px;top:933.00px;font-size:34.5px;line-height:34.5px;transform:scaleX(0.8000);-webkit-text-stroke-width:0.8px;">Н</span>
<span class="t" style="left:643.93px;top:941.00px;font-size:34px;line-height:34px;letter-spacing:-0.503px;transform:scaleX(0.9700);">выр</span>
<span class="t" style="left:619.64px;top:966.00px;font-size:34.5px;line-height:34.5px;transform:scaleX(0.8200);-webkit-text-stroke-width:0.8px;">Н</span>
<span class="t" style="left:644.43px;top:974.00px;font-size:34px;line-height:34px;letter-spacing:0.902px;transform:scaleX(0.9700);">вр.мех</span>
<span class="t" style="left:619.95px;top:999.00px;font-size:34.5px;line-height:34.5px;transform:scaleX(0.8000);-webkit-text-stroke-width:0.8px;">Н</span>
<span class="t" style="left:643.93px;top:1007.00px;font-size:34px;line-height:34px;letter-spacing:-0.503px;transform:scaleX(0.9700);">выр</span>
<span class="t" style="left:619.64px;top:1032.00px;font-size:34.5px;line-height:34.5px;transform:scaleX(0.8200);-webkit-text-stroke-width:0.8px;">Н</span>
<span class="t" style="left:644.43px;top:1040.00px;font-size:34px;line-height:34px;letter-spacing:0.902px;transform:scaleX(0.9700);">вр.мех</span>
<span class="t" style="left:619.95px;top:1099.00px;font-size:34.5px;line-height:34.5px;transform:scaleX(0.8000);-webkit-text-stroke-width:0.8px;">Н</span>
<span class="t" style="left:643.93px;top:1107.00px;font-size:34px;line-height:34px;letter-spacing:-0.503px;transform:scaleX(0.9700);">выр</span>
<span class="t" style="left:619.64px;top:1132.00px;font-size:34.5px;line-height:34.5px;transform:scaleX(0.8200);-webkit-text-stroke-width:0.8px;">Н</span>
<span class="t" style="left:644.43px;top:1140.00px;font-size:34px;line-height:34px;letter-spacing:0.902px;transform:scaleX(0.9700);">вр.мех</span>
<span class="t" style="left:619.95px;top:1165.00px;font-size:34.5px;line-height:34.5px;transform:scaleX(0.8000);-webkit-text-stroke-width:0.8px;">Н</span>
<span class="t" style="left:643.93px;top:1173.00px;font-size:34px;line-height:34px;letter-spacing:-0.503px;transform:scaleX(0.9700);">выр</span>
<span class="t" style="left:619.64px;top:1198.00px;font-size:34.5px;line-height:34.5px;transform:scaleX(0.8200);-webkit-text-stroke-width:0.8px;">Н</span>
<span class="t" style="left:644.43px;top:1206.00px;font-size:34px;line-height:34px;letter-spacing:0.902px;transform:scaleX(0.9700);">вр.мех</span>
<span class="t" style="left:619.95px;top:1232.00px;font-size:34.5px;line-height:34.5px;transform:scaleX(0.8000);-webkit-text-stroke-width:0.8px;">Н</span>
<span class="t" style="left:643.93px;top:1240.00px;font-size:34px;line-height:34px;letter-spacing:-0.503px;transform:scaleX(0.9700);">выр</span>
<span class="t" style="left:619.64px;top:1265.00px;font-size:34.5px;line-height:34.5px;transform:scaleX(0.8200);-webkit-text-stroke-width:0.8px;">Н</span>
<span class="t" style="left:644.43px;top:1273.00px;font-size:34px;line-height:34px;letter-spacing:0.902px;transform:scaleX(0.9700);">вр.мех</span>
<span class="t" style="left:619.95px;top:1298.00px;font-size:34.5px;line-height:34.5px;transform:scaleX(0.8000);-webkit-text-stroke-width:0.8px;">Н</span>
<span class="t" style="left:643.93px;top:1306.00px;font-size:34px;line-height:34px;letter-spacing:-0.503px;transform:scaleX(0.9700);">выр</span>
<span class="t" style="left:619.64px;top:1331.00px;font-size:34.5px;line-height:34.5px;transform:scaleX(0.8200);-webkit-text-stroke-width:0.8px;">Н</span>
<span class="t" style="left:644.43px;top:1339.00px;font-size:34px;line-height:34px;letter-spacing:0.902px;transform:scaleX(0.9700);">вр.мех</span>
<span class="t" style="left:206.12px;top:1399.00px;font-size:35px;line-height:35px;letter-spacing:8.725px;transform:scaleX(0.9700);">Примечани</span>
<span class="t" style="left:460.82px;top:1399.00px;font-size:35px;line-height:35px;letter-spacing:0.858px;transform:scaleX(0.9700);">е.</span>
<span class="t" style="left:513.40px;top:1401.00px;font-size:35px;line-height:35px;letter-spacing:-0.176px;transform:scaleX(0.9700);">Нормы</span>
<span class="t" style="left:645.30px;top:1401.00px;font-size:35px;line-height:35px;letter-spacing:0.517px;transform:scaleX(0.9700);">времени</span>
<span class="t" style="left:795.29px;top:1401.00px;font-size:35px;line-height:35px;transform:scaleX(0.9700);">и</span>
<span class="t" style="left:833.40px;top:1400.00px;font-size:35px;line-height:35px;letter-spacing:0.098px;transform:scaleX(0.9700);">выработки</span>
<span class="t" style="left:1027.99px;top:1401.00px;font-size:35px;line-height:35px;letter-spacing:-0.700px;transform:scaleX(0.9700);">на</span>
<span class="t" style="left:1081.19px;top:1401.00px;font-size:35px;line-height:35px;letter-spacing:0.700px;transform:scaleX(0.9700);">погрузку</span>
<span class="t" style="left:1246.09px;top:1401.00px;font-size:35px;line-height:35px;letter-spacing:-0.700px;transform:scaleX(0.9700);">навалочных</span>
<span class="t" style="left:1450.79px;top:1401.00px;font-size:35px;line-height:35px;letter-spacing:0.529px;transform:scaleX(0.9700);">грузов</span>
<span class="t" style="left:1576.09px;top:1401.00px;font-size:35px;line-height:35px;letter-spacing:-0.700px;transform:scaleX(0.9700);">на</span>
<span class="t" style="left:1627.39px;top:1401.00px;font-size:35px;line-height:35px;letter-spacing:0.580px;transform:scaleX(0.9700);">автомобиль</span>
<span class="t" style="left:1831.17px;top:1399.00px;font-size:35px;line-height:35px;letter-spacing:-0.055px;transform:scaleX(0.9700);">тракторными</span>
<span class="t" style="left:2062.59px;top:1398.00px;font-size:35px;line-height:35px;letter-spacing:0.022px;transform:scaleX(0.9700);">погрузчиками,</span>
<span class="t" style="left:153.99px;top:1433.00px;font-size:35px;line-height:35px;transform:scaleX(0.9700);">с</span>
<span class="t" style="left:178.59px;top:1433.00px;font-size:35px;line-height:35px;letter-spacing:0.562px;transform:scaleX(0.9700);">емкостью</span>
<span class="t" style="left:342.62px;top:1433.00px;font-size:35px;line-height:35px;letter-spacing:0.637px;transform:scaleX(0.9700);">ковша</span>
<span class="t" style="left:455.05px;top:1434.00px;font-size:35px;line-height:35px;letter-spacing:0.700px;transform:scaleX(0.9700);">0,82</span>
<span class="t" style="left:530.35px;top:1434.00px;font-size:35px;line-height:35px;transform:scaleX(0.9700);">м</span>
<span class="t" style="left:584.11px;top:1436.00px;font-size:35px;line-height:35px;letter-spacing:-0.254px;transform:scaleX(0.9700);">разработаны</span>
<span class="t" style="left:789.03px;top:1436.00px;font-size:35px;line-height:35px;letter-spacing:0.700px;transform:scaleX(0.9700);">для</span>
<span class="t" style="left:855.03px;top:1436.00px;font-size:35px;line-height:35px;letter-spacing:-0.188px;transform:scaleX(0.9700);">тракторных</span>
<span class="t" style="left:1054.05px;top:1435.00px;font-size:35px;line-height:35px;letter-spacing:0.233px;transform:scaleX(0.9700);">погрузчиков</span>
<span class="t" style="left:1262.25px;top:1436.00px;font-size:35px;line-height:35px;letter-spacing:0.392px;transform:scaleX(0.9700);">марки</span>
<span class="t" style="left:1372.05px;top:1436.00px;font-size:35px;line-height:35px;letter-spacing:0.700px;transform:scaleX(0.9700);">Д-443.</span>
<span class="t" style="left:556.62px;top:1434.00px;font-size:25px;line-height:25px;transform:scaleX(1.0500);">3</span>
</div>
</div>
</body></html>
